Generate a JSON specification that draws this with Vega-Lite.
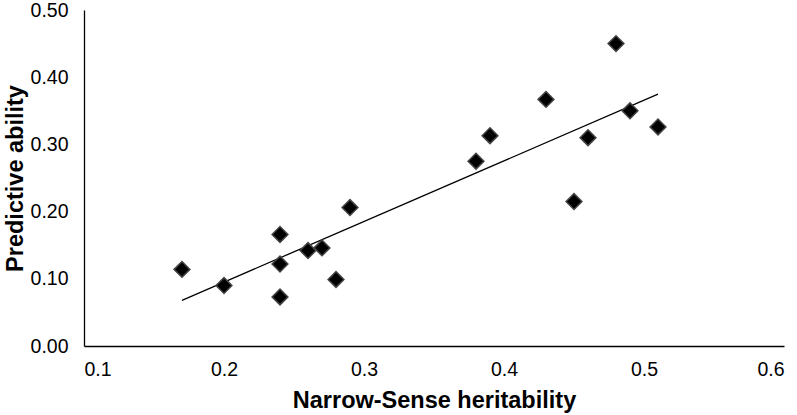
{
  "$schema": "https://vega.github.io/schema/vega-lite/v6.json",
  "autosize": "none",
  "width": 700,
  "height": 336,
  "padding": {"left": 84, "top": 10, "right": 13, "bottom": 69},
  "background": "white",
  "config": {
    "view": {"stroke": null},
    "font": "Liberation Sans",
    "axis": {
      "grid": false,
      "ticks": false,
      "domainColor": "#000000",
      "domainWidth": 1.3,
      "labelFont": "Liberation Sans",
      "labelFontSize": 19.5,
      "labelColor": "#000000",
      "titleFont": "Liberation Sans",
      "titleFontSize": 23.5,
      "titleFontWeight": "bold",
      "titleColor": "#000000"
    }
  },
  "data": {
    "values": [
      {"h2": 0.17, "pa": 0.114},
      {"h2": 0.20, "pa": 0.090},
      {"h2": 0.24, "pa": 0.166},
      {"h2": 0.24, "pa": 0.122},
      {"h2": 0.24, "pa": 0.073},
      {"h2": 0.26, "pa": 0.142},
      {"h2": 0.27, "pa": 0.146},
      {"h2": 0.28, "pa": 0.099},
      {"h2": 0.29, "pa": 0.206},
      {"h2": 0.38, "pa": 0.275},
      {"h2": 0.39, "pa": 0.313},
      {"h2": 0.43, "pa": 0.367},
      {"h2": 0.45, "pa": 0.215},
      {"h2": 0.46, "pa": 0.310},
      {"h2": 0.48, "pa": 0.450},
      {"h2": 0.49, "pa": 0.350},
      {"h2": 0.51, "pa": 0.326}
    ]
  },
  "layer": [
    {
      "transform": [{"regression": "pa", "on": "h2"}],
      "mark": {"type": "line", "color": "#000000", "strokeWidth": 1.3},
      "encoding": {
        "x": {"field": "h2", "type": "quantitative"},
        "y": {"field": "pa", "type": "quantitative"}
      }
    },
    {
      "mark": {"type": "point", "shape": "diamond", "filled": true, "size": 250, "color": "#000000", "stroke": "#444444", "strokeWidth": 1.5, "opacity": 1},
      "encoding": {
        "x": {
          "field": "h2", "type": "quantitative",
          "scale": {"domain": [0.1, 0.6], "nice": false, "zero": false},
          "axis": {"values": [0.1, 0.2, 0.3, 0.4, 0.5, 0.6], "format": ".1f", "labelPadding": 14, "title": "Narrow-Sense heritability", "titlePadding": 10}
        },
        "y": {
          "field": "pa", "type": "quantitative",
          "scale": {"domain": [0, 0.5], "nice": false},
          "axis": {"values": [0, 0.1, 0.2, 0.3, 0.4, 0.5], "format": ".2f", "labelPadding": 16, "title": "Predictive ability", "titlePadding": 3}
        }
      }
    }
  ]
}
